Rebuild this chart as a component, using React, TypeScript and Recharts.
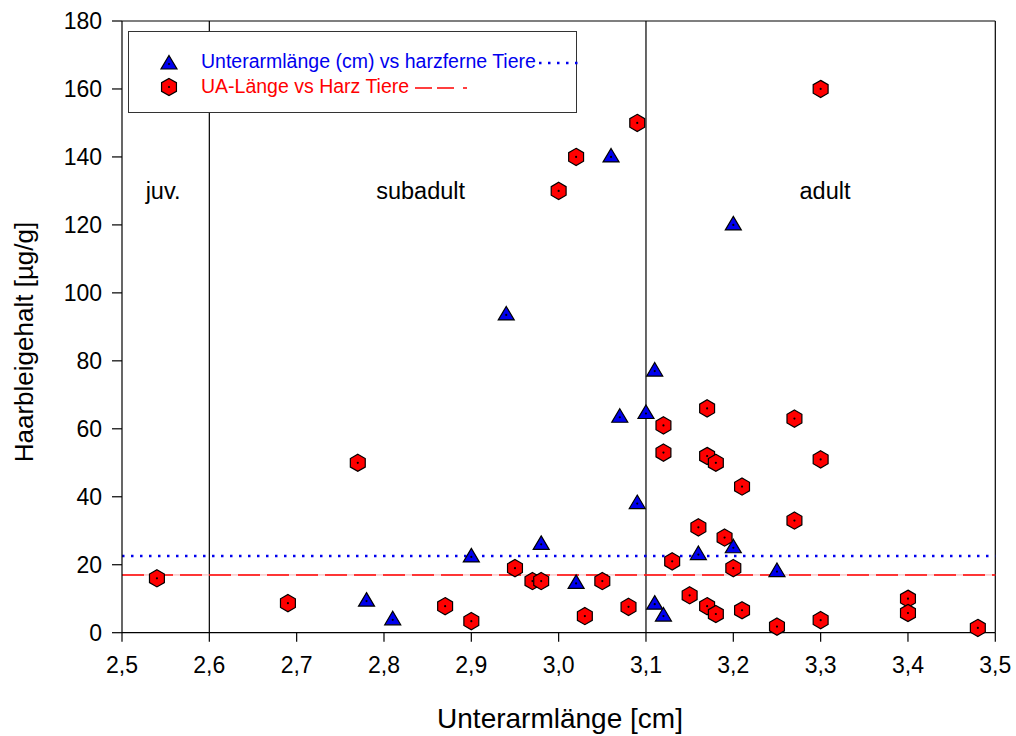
import React from 'react';
import { ScatterChart, Scatter, XAxis, YAxis, ReferenceLine } from 'recharts';

// Unterarmlänge (cm) vs harzferne Tiere
const harzferneX = [2.78, 2.81, 2.90, 2.94, 2.98, 3.02, 3.06, 3.07, 3.09, 3.10, 3.11, 3.11, 3.12, 3.16, 3.20, 3.20, 3.25];
const harzferneY = [9.3, 3.8, 22.3, 93.5, 26, 14.5, 140, 63.4, 38, 64.5, 77, 8.4, 4.9, 23, 120, 25, 18];

// UA-Länge vs Harz Tiere
const harzX = [2.54, 2.69, 2.77, 2.87, 2.90, 2.95, 2.97, 2.98, 3.00, 3.02, 3.03, 3.05, 3.08, 3.09, 3.12, 3.12, 3.13, 3.15, 3.16, 3.17, 3.17, 3.17, 3.18, 3.18, 3.19, 3.20, 3.21, 3.21, 3.25, 3.27, 3.27, 3.30, 3.30, 3.30, 3.40, 3.40, 3.48];
const harzY = [16, 8.7, 50, 7.8, 3.4, 19, 15.2, 15.2, 130, 140, 4.9, 15.2, 7.6, 150, 61, 53, 21, 11, 31, 66, 52, 7.8, 50, 5.5, 28, 19, 43, 6.6, 1.8, 63, 33, 160, 51, 3.7, 10, 5.8, 1.4];

// mean lines
const harzferneMean = 22.6;
const harzMean = 17;

// age class boundaries and labels
const ageBoundaries = [2.6, 3.1];
const ageLabels = ['juv.', 'subadult', 'adult'];
const ageLabelX = [2.547, 2.842, 3.305];
const ageLabelY = [127.7, 127.7, 127.7];

const xTicks = [2.5, 2.6, 2.7, 2.8, 2.9, 3.0, 3.1, 3.2, 3.3, 3.4, 3.5];
const yTicks = [0, 20, 40, 60, 80, 100, 120, 140, 160, 180];

const seriesNames = ['Unterarmlänge (cm) vs harzferne Tiere', 'UA-Länge vs Harz Tiere'];
const xTitle = 'Unterarmlänge [cm]';
const yTitle = 'Haarbleigehalt [µg/g]';

const blueData = harzferneX.map((x, i) => ({ x, y: harzferneY[i] }));
const redData = harzX.map((x, i) => ({ x, y: harzY[i] }));
const labelData = ageLabels.map((label, i) => ({ x: ageLabelX[i], y: ageLabelY[i], label }));

const FONT = 'Arial, "Liberation Sans", sans-serif';
const BLUE = '#0000ee';
const RED = '#ff0000';

const Triangle = ({ cx, cy }: any) => (
  <g>
    <polygon
      points={`${cx},${cy - 8.5} ${cx + 8},${cy + 5} ${cx - 8},${cy + 5}`}
      fill={BLUE}
      stroke="#000"
      strokeWidth={1.2}
      strokeLinejoin="miter"
    />
    <circle cx={cx} cy={cy} r={1.1} fill="#000" />
  </g>
);

const Hexagon = ({ cx, cy }: any) => {
  const r = 8.6;
  const pts = [-90, -30, 30, 90, 150, 210]
    .map((a) => {
      const rad = (a * Math.PI) / 180;
      return `${cx + r * Math.cos(rad)},${cy + r * Math.sin(rad)}`;
    })
    .join(' ');
  return (
    <g>
      <polygon points={pts} fill={RED} stroke="#000" strokeWidth={1.2} />
      <circle cx={cx} cy={cy} r={1.1} fill="#000" />
    </g>
  );
};

const AgeLabel = ({ cx, cy, payload }: any) => (
  <text x={cx} y={cy} textAnchor="middle" fontSize={23.5} fontFamily={FONT} fill="#000">
    {payload.label}
  </text>
);

const fmt = (v: number) => v.toFixed(1).replace('.', ',');

export default function App() {
  return (
    <div style={{ position: 'absolute', left: 0, top: 0, width: 1016, height: 736, overflow: 'hidden' }}>
      <ScatterChart
        width={1016}
        height={736}
        margin={{ top: 21, right: 20.7, bottom: 43.3, left: 62 }}
        style={{ fontFamily: FONT }}
      >
        <XAxis
          type="number"
          dataKey="x"
          domain={[2.5, 3.5]}
          ticks={xTicks}
          tickFormatter={fmt}
          height={60}
          tickSize={9}
          tickMargin={15}
          stroke="#000"
          axisLine={{ stroke: '#000', strokeWidth: 1.2 }}
          tickLine={{ stroke: '#000', strokeWidth: 1.2 }}
          tick={{ fill: '#000', fontSize: 23, fontFamily: FONT }}
          label={{
            content: () => (
              <text x={560} y={728} textAnchor="middle" fontSize={28} fontFamily={FONT} fill="#000">
                {xTitle}
              </text>
            ),
          }}
        />
        <YAxis
          type="number"
          dataKey="y"
          domain={[0, 180]}
          ticks={yTicks}
          width={60}
          tickSize={10}
          tickMargin={10}
          stroke="#000"
          axisLine={{ stroke: '#000', strokeWidth: 1.2 }}
          tickLine={{ stroke: '#000', strokeWidth: 1.2 }}
          tick={{ fill: '#000', fontSize: 23, fontFamily: FONT }}
          label={{
            content: () => (
              <text
                x={24}
                y={342}
                textAnchor="middle"
                dominantBaseline="central"
                transform="rotate(-90, 24, 342)"
                fontSize={26}
                fontFamily={FONT}
                fill="#000"
              >
                {yTitle}
              </text>
            ),
          }}
        />
        <ReferenceLine y={180} stroke="#000" strokeWidth={1.2} />
        <ReferenceLine x={3.5} stroke="#000" strokeWidth={1.2} />
        {ageBoundaries.map((b) => (
          <ReferenceLine key={b} x={b} stroke="#000" strokeWidth={1.2} />
        ))}
        <ReferenceLine y={harzferneMean} stroke={BLUE} strokeWidth={2.5} strokeDasharray="2.5 6.5" />
        <ReferenceLine y={harzMean} stroke="#f6b0b0" strokeWidth={1} />
        <ReferenceLine y={harzMean} stroke={RED} strokeWidth={1.5} strokeDasharray="22 7" />
        <Scatter data={labelData} shape={<AgeLabel />} isAnimationActive={false} />
        <Scatter name={seriesNames[0]} data={blueData} shape={<Triangle />} isAnimationActive={false} />
        <Scatter name={seriesNames[1]} data={redData} shape={<Hexagon />} isAnimationActive={false} />
      </ScatterChart>
      <div
        style={{
          position: 'absolute',
          left: 128,
          top: 31,
          width: 447,
          height: 80,
          border: '1.5px solid #333',
          background: '#fff',
          fontFamily: FONT,
          fontSize: 19.5,
          boxSizing: 'content-box',
        }}
      >
        <div style={{ position: 'absolute', left: 30, top: 18, display: 'flex', alignItems: 'center', whiteSpace: 'nowrap' }}>
          <svg width={20} height={20} style={{ marginRight: 22 }}>
            <Triangle cx={10} cy={12} />
          </svg>
          <span style={{ color: BLUE }}>{seriesNames[0]}</span>
          <svg width={46} height={20} style={{ overflow: 'visible' }}>
            <line x1={3} y1={11} x2={46} y2={11} stroke={BLUE} strokeWidth={2.5} strokeDasharray="2.5 6.5" />
          </svg>
        </div>
        <div style={{ position: 'absolute', left: 30, top: 43, display: 'flex', alignItems: 'center', whiteSpace: 'nowrap' }}>
          <svg width={20} height={20} style={{ marginRight: 22 }}>
            <Hexagon cx={10} cy={10} />
          </svg>
          <span style={{ color: RED }}>{seriesNames[1]}</span>
          <svg width={64} height={20}>
            <line x1={6} y1={11} x2={58} y2={11} stroke={RED} strokeWidth={1.5} strokeDasharray="17 5 17 9 8 100" />
          </svg>
        </div>
      </div>
    </div>
  );
}
